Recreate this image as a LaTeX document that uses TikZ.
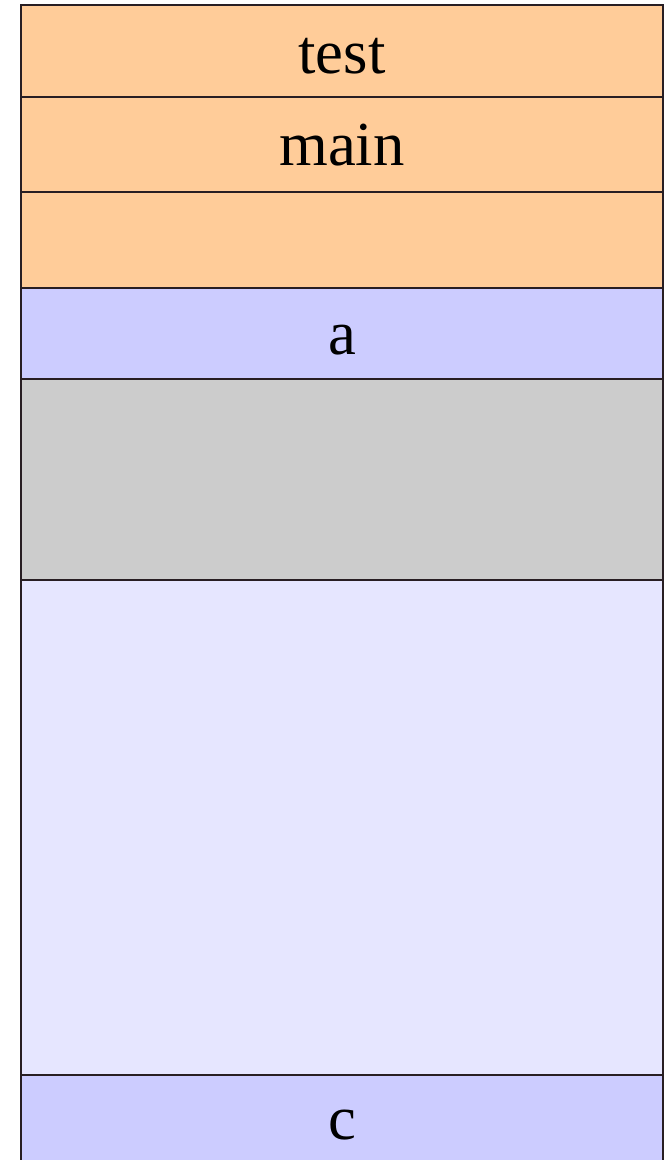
\documentclass[tikz,border=0pt]{standalone}
\usepackage{fontspec}
\setmainfont{Liberation Serif}
\usepackage{xcolor}
\definecolor{frameorange}{RGB}{255,204,153}
\definecolor{frameblue}{RGB}{204,204,255}
\definecolor{framegray}{RGB}{204,204,204}
\definecolor{framelight}{RGB}{230,230,255}
\definecolor{edgedark}{RGB}{40,30,35}
\usepackage{tikz}
\usetikzlibrary{positioning}

\begin{document}
\begin{tikzpicture}[
  x=0.75pt,y=-0.75pt,
  node distance=0pt,
  frame/.style={rectangle,draw=edgedark,line width=1.1pt,outer sep=0pt,
    inner sep=0pt,minimum width=481.5pt,anchor=north,
    text height=32pt,text depth=0pt,
    font=\fontsize{47}{56}\selectfont}
]
  \useasboundingbox (0,0) rectangle (671,1160);
  \node[frame,fill=frameorange,minimum height=69pt,text height=34pt] (test) at (342,5) {test};
  \node[frame,fill=frameorange,minimum height=71.25pt,below=of test] (main) {main};
  \node[frame,fill=frameorange,minimum height=72pt,below=of main] (blank) {};
  \node[frame,fill=frameblue,minimum height=68.25pt,below=of blank] (a) {a};
  \node[frame,fill=framegray,minimum height=150.75pt,below=of a] (gap) {};
  \node[frame,fill=framelight,minimum height=371.25pt,below=of gap] (heap) {};
  \node[frame,fill=frameblue,minimum height=75pt,below=of heap,
    text height=22pt] (c) {c};
\end{tikzpicture}
\end{document}
